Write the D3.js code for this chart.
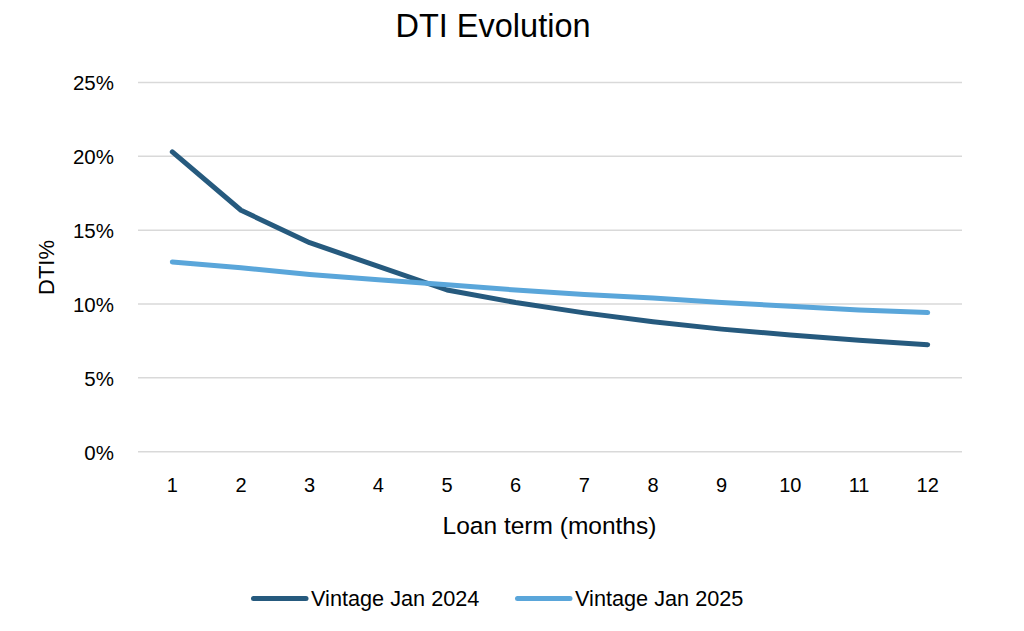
<!DOCTYPE html>
<html>
<head>
<meta charset="utf-8">
<script src="https://cdn.jsdelivr.net/npm/d3@7"></script>
<style>
html,body{margin:0;padding:0;background:#fff;}
svg{display:block;font-family:"Liberation Sans",Arial,sans-serif;}
</style>
</head>
<body>
<svg id="chart" width="1024" height="631"></svg>
<script>
const months = [1,2,3,4,5,6,7,8,9,10,11,12];
const vintage2024 = [20.3,16.35,14.15,12.55,10.95,10.1,9.4,8.8,8.3,7.9,7.55,7.25];
const vintage2025 = [12.85,12.45,12.0,11.65,11.3,10.95,10.65,10.4,10.1,9.85,9.6,9.42];
const yTicks = [0,5,10,15,20,25];
const seriesNames = ["Vintage Jan 2024","Vintage Jan 2025"];
const seriesColors = ["#265A7E","#5AA6DA"];

(function(){
const FONT = "Liberation Sans, Arial, sans-serif";
const svg = d3.select("#chart");
const pL = 138, pR = 962, pT = 82.5, pB = 451.7;

const x = d3.scaleBand().domain(months).range([pL,pR]);
const y = d3.scaleLinear().domain([0,25]).range([pB,pT]);

// gridlines
svg.append("g").selectAll("line").data(yTicks).join("line")
  .attr("x1",pL).attr("x2",pR)
  .attr("y1",d=>y(d)).attr("y2",d=>y(d))
  .attr("stroke","#d9d9d9").attr("stroke-width",1.5);

// y axis labels
const yAxis = d3.axisLeft(y).tickValues(yTicks).tickFormat(d=>d+"%").tickSize(0).tickPadding(0);
const gy = svg.append("g").attr("transform",`translate(${114},0)`).call(yAxis);
gy.select(".domain").remove();
gy.selectAll("text").attr("font-size",20.5).attr("fill","#000").attr("font-family",FONT).attr("dy","0.36em");

// x axis labels
const xAxis = d3.axisBottom(x).tickSize(0).tickPadding(0);
const gx = svg.append("g").attr("transform",`translate(0,${492})`).call(xAxis);
gx.select(".domain").remove();
gx.selectAll("text").attr("font-size",20).attr("fill","#000").attr("font-family",FONT).attr("y",0).attr("dy","0");

// lines
const line = d3.line().x((d,i)=>x(months[i])+x.bandwidth()/2).y(d=>y(d));
[vintage2024, vintage2025].forEach((s,k)=>{
  svg.append("path").datum(s)
    .attr("d",line).attr("fill","none")
    .attr("stroke",seriesColors[k]).attr("stroke-width",5)
    .attr("stroke-linecap","round").attr("stroke-linejoin","round");
});

// title
svg.append("text").attr("x",493).attr("y",37).attr("text-anchor","middle")
  .attr("font-size",32.5).attr("fill","#000").text("DTI Evolution");

// axis titles
svg.append("text").attr("transform","translate(54,267.5) rotate(-90)")
  .attr("text-anchor","middle").attr("font-size",22).attr("fill","#000").text("DTI%");
svg.append("text").attr("x",549.5).attr("y",534).attr("text-anchor","middle")
  .attr("font-size",24.5).attr("fill","#000").text("Loan term (months)");

// legend
const legendX = [251,515];
seriesNames.forEach((n,k)=>{
  const g = svg.append("g").attr("transform",`translate(${legendX[k]},598.5)`);
  g.append("line").attr("x1",2.5).attr("x2",55).attr("y1",0).attr("y2",0)
    .attr("stroke",seriesColors[k]).attr("stroke-width",5).attr("stroke-linecap","round");
  g.append("text").attr("x",60).attr("y",7.5).attr("font-size",21.7).attr("fill","#000").text(n);
});
})();
</script>
</body>
</html>
